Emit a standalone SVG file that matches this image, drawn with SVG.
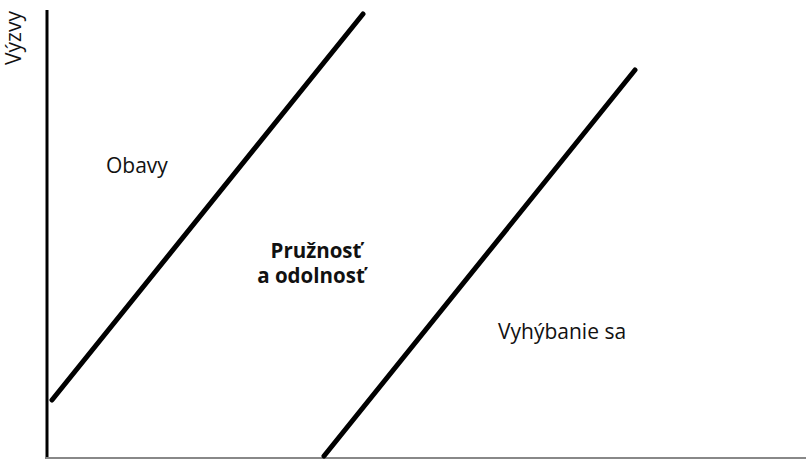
<svg xmlns="http://www.w3.org/2000/svg" width="806" height="459" viewBox="0 0 806 459">
<style>
.lbl{font-family:"Open Sans","Noto Sans",sans-serif;font-size:21px;fill:#111}
.bold{font-weight:bold;font-size:20.5px}
.band{stroke:#000;stroke-width:5;stroke-linecap:round;fill:none}
</style>
<rect width="806" height="459" fill="#fff"/>
<g id="axes">
<line x1="47" y1="10" x2="47" y2="459" stroke="#000" stroke-width="3"/>
<line x1="46" y1="458" x2="806" y2="458" stroke="#888" stroke-width="2"/>
<text class="lbl" transform="translate(21,38) rotate(-90)" text-anchor="middle">Výzvy</text>
</g>
<g id="connectors">
<line class="band" x1="52" y1="400" x2="363" y2="14"/>
<line class="band" x1="324" y1="456" x2="635" y2="70"/>
</g>
<g id="obavy"><text class="lbl" x="106" y="173">Obavy</text></g>
<g id="pruznost"><text class="lbl bold" text-anchor="middle"><tspan x="316" y="258">Pružnosť</tspan><tspan x="311" y="283">a odolnosť</tspan></text></g>
<g id="vyhybanie"><text class="lbl" x="498" y="339">Vyhýbanie sa</text></g>
</svg>
